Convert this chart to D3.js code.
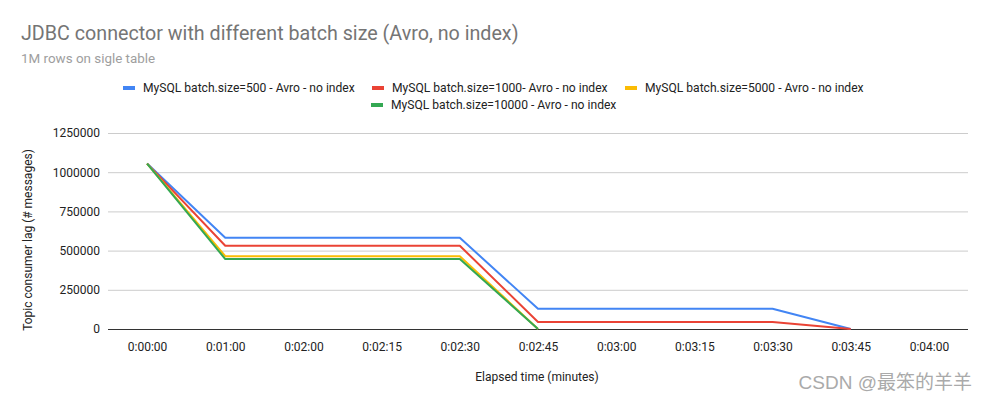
<!DOCTYPE html>
<html><head><meta charset="utf-8">
<script src="https://cdnjs.cloudflare.com/ajax/libs/d3/7.8.5/d3.min.js"></script>
<style>
html,body{margin:0;padding:0;background:#fff;}
svg{display:block;font-family:Roboto,Arial,sans-serif;}
</style></head>
<body><svg id="c" width="988" height="402"></svg>
<script>
const categories = ["0:00:00","0:01:00","0:02:00","0:02:15","0:02:30","0:02:45","0:03:00","0:03:15","0:03:30","0:03:45","0:04:00"];
const seriesNames = ["MySQL batch.size=500 - Avro - no index","MySQL batch.size=1000- Avro - no index","MySQL batch.size=5000 - Avro - no index","MySQL batch.size=10000 - Avro - no index"];
const batch500   = [1055000, 582000, 582000, 582000, 582000, 129000, 129000, 129000, 129000, 0, null];
const batch1000  = [1055000, 531000, 531000, 531000, 531000, 45000, 45000, 45000, 45000, 0, null];
const batch5000  = [1055000, 464000, 464000, 464000, 464000, 0, null, null, null, null, null];
const batch10000 = [1055000, 446000, 446000, 446000, 446000, 0, null, null, null, null, null];
const yTicks = [0, 250000, 500000, 750000, 1000000, 1250000];
const colors = ["#4285F4","#EA4335","#FBBC04","#34A853"];

(function(){
const svg = d3.select("#c");
const pL = 108, pR = 968, pT = 133, pB = 329;
const x = d3.scalePoint().domain(categories).range([pL, pR]).padding(0.5);
const y = d3.scaleLinear().domain([0, 1250000]).range([pB, pT]);

svg.append("text").attr("x",21).attr("y",40).attr("font-size",19.7).attr("fill","#757575").text("JDBC connector with different batch size (Avro, no index)");
svg.append("text").attr("x",21).attr("y",63).attr("font-size",13.4).attr("fill","#9e9e9e").text("1M rows on sigle table");

const yAxis = d3.axisLeft(y).tickValues(yTicks).tickSize(-(pR-pL)).tickFormat(d3.format("d"));
const gy = svg.append("g").attr("transform",`translate(${pL},0)`).call(yAxis);
gy.select(".domain").remove();
gy.selectAll(".tick line").attr("stroke","#cccccc");
gy.selectAll(".tick text").attr("x",-8).attr("font-size",12).attr("fill","#222").attr("font-family","Roboto, Arial, sans-serif");
gy.selectAll(".tick").filter(d=>d===0).select("line").attr("stroke","#333");

const xAxis = d3.axisBottom(x).tickSize(0).tickPadding(13);
const gx = svg.append("g").attr("transform",`translate(0,${pB})`).call(xAxis);
gx.select(".domain").remove();
gx.selectAll(".tick text").attr("font-size",12).attr("fill","#222").attr("font-family","Roboto, Arial, sans-serif");

svg.append("text").attr("transform","translate(32,240) rotate(-90)").attr("text-anchor","middle").attr("font-size",12).attr("fill","#222").text("Topic consumer lag (# messages)");
svg.append("text").attr("x",537).attr("y",381).attr("text-anchor","middle").attr("font-size",12).attr("fill","#222").text("Elapsed time (minutes)");

const all = [batch500, batch1000, batch5000, batch10000];
const line = d3.line().defined(d=>d!=null).x((d,i)=>x(categories[i])).y(d=>y(d));
all.forEach((s,i)=>{
  svg.append("path").attr("d", line(s)).attr("fill","none").attr("stroke",colors[i]).attr("stroke-width",2).attr("stroke-linejoin","round");
});

const legendPos = [[123,88],[372,88],[625,88],[371,105]];
seriesNames.forEach((n,i)=>{
  const [lx,ly] = legendPos[i];
  svg.append("rect").attr("x",lx).attr("y",ly-2).attr("width",12).attr("height",4).attr("fill",colors[i]);
  svg.append("text").attr("x",lx+20).attr("y",ly+4).attr("font-size",12.1).attr("fill","#222").text(n);
});

svg.append("text").attr("x",972).attr("y",389).attr("text-anchor","end").attr("font-size",19).attr("fill","#aaaaaa").attr("font-family","Arial, 'Liberation Sans', 'Noto Sans CJK SC', sans-serif").text("CSDN @最笨的羊羊");
})();
</script></body></html>
